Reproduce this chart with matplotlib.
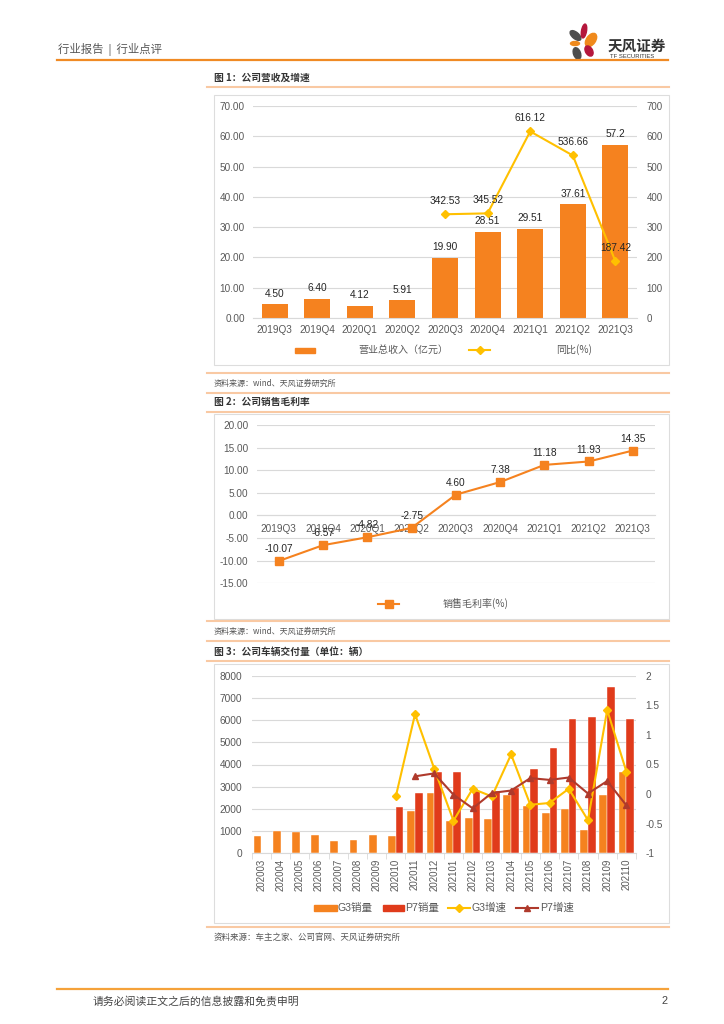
import matplotlib
matplotlib.use("Agg")
import matplotlib.pyplot as plt
import numpy as np
from matplotlib.lines import Line2D
from matplotlib.patches import Rectangle, Ellipse

plt.rcParams['font.family'] = ['Liberation Sans', 'Noto Sans CJK SC', 'DejaVu Sans']
plt.rcParams['axes.unicode_minus'] = False

# chart 1: revenue and yoy growth
quarters = ['2019Q3', '2019Q4', '2020Q1', '2020Q2', '2020Q3', '2020Q4', '2021Q1', '2021Q2', '2021Q3']
revenue = [4.50, 6.40, 4.12, 5.91, 19.90, 28.51, 29.51, 37.61, 57.2]
revenue_lbl = ['4.50', '6.40', '4.12', '5.91', '19.90', '28.51', '29.51', '37.61', '57.2']
yoy = [np.nan, np.nan, np.nan, np.nan, 342.53, 345.52, 616.12, 536.66, 187.42]

# chart 2: gross margin
margin = [-10.07, -6.57, -4.82, -2.75, 4.60, 7.38, 11.18, 11.93, 14.35]

# chart 3: deliveries
months = ['202003', '202004', '202005', '202006', '202007', '202008', '202009', '202010',
          '202011', '202012', '202101', '202102', '202103', '202104', '202105', '202106',
          '202107', '202108', '202109', '202110']
g3_sales = [780, 1000, 950, 810, 540, 600, 830, 800, 1900, 2720, 1460, 1610, 1550, 2620,
            2150, 1820, 1980, 1070, 2630, 3650]
p7_sales = [0, 0, 0, 0, 0, 0, 0, 2090, 2730, 3680, 3680, 2800, 2810, 2940, 3800, 4730,
            6050, 6150, 7500, 6050]
g3_growth = [np.nan] * 7 + [-0.04, 1.35, 0.43, -0.45, 0.09, -0.04, 0.67, -0.18, -0.15,
                            0.09, -0.44, 1.42, 0.38]
p7_growth = [np.nan] * 8 + [0.30, 0.35, -0.01, -0.24, 0.02, 0.06, 0.27, 0.24, 0.28, 0.01,
                            0.22, -0.19]

W, H = 724, 1024
ORANGE = '#F5821F'
RED = '#E03B1B'
YELLOW = '#FFC000'
DARKRED = '#AF3A2C'
GRID = '#D9D9D9'
TXT = '#595959'
LINEOR = '#F9C9A3'

fig = plt.figure(figsize=(W / 100, H / 100), dpi=100)


def ax_at(l, t, r, b):
    return fig.add_axes([l / W, 1 - b / H, (r - l) / W, (b - t) / H])


def ftext(x, y, s, **kw):
    kw.setdefault('va', 'center')
    fig.text(x / W, 1 - y / H, s, **kw)


def hline(x0, x1, y, color, lw):
    fig.add_artist(Line2D([x0 / W, x1 / W], [1 - y / H] * 2, color=color, lw=lw))


def box(l, t, r, b):
    fig.add_artist(Rectangle((l / W, 1 - b / H), (r - l) / W, (b - t) / H, fill=False,
                             ec='#DDDDDD', lw=0.8))


# header
ftext(58, 50, '行业报告  |  行业点评', fontsize=8.2, color='#555555',
      family=['Noto Sans CJK SC'])
hline(57, 668, 60, '#F08A24', 1.6)
lg = fig.add_axes([560 / W, 1 - 65 / H, 45 / W, 50 / H])
lg.set_xlim(560, 605)
lg.set_ylim(65, 15)
lg.axis('off')
for (cx, cy, w, h, a, c) in [(575.5, 35.5, 13, 6.5, 40, '#4D4D4D'),
                             (584, 31, 5, 14, 10, '#B5173C'),
                             (591, 40, 9, 15, 35, '#F08A1C'),
                             (575, 43.5, 9, 4, 0, '#F08A1C'),
                             (589, 51, 7, 11, -30, '#B5173C'),
                             (577, 53.5, 7, 12, -20, '#4D4D4D')]:
    lg.add_patch(Ellipse((cx, cy), w, h, angle=a, color=c))
ftext(608, 46, '天风证券', fontsize=10.5, color='#333333', weight='bold',
      family=['Noto Sans CJK SC'])
ftext(610, 56, 'TF SECURITIES', fontsize=4.2, color='#333333')

# ---------------- chart 1 ----------------
ftext(214, 78, '图 1：公司营收及增速', fontsize=7, color='#333333', weight='bold',
      family=['Noto Sans CJK SC'])
hline(207, 669, 87, LINEOR, 1.5)
box(214, 95, 669, 365)
ax1 = ax_at(253.3, 106, 636.7, 318)
x1 = np.arange(len(quarters))
ax1.bar(x1, revenue, width=0.61, color=ORANGE, zorder=2)
for xi, v, s in zip(x1, revenue, revenue_lbl):
    ax1.annotate(s, (xi, v), xytext=(0, 4), textcoords='offset points', ha='center',
                 va='bottom', fontsize=7.3, color='#262626')
ax1.set_xlim(-0.5, len(quarters) - 0.5)
ax1.set_ylim(0, 70)
ax1.set_yticks(np.arange(0, 71, 10))
ax1.set_yticklabels(['%.2f' % v for v in np.arange(0, 71, 10)])
ax1.set_xticks(x1)
ax1.set_xticklabels(quarters)
ax1.grid(axis='y', color=GRID, lw=0.8, zorder=0)
ax1.set_axisbelow(True)
for s in ['top', 'left', 'right']:
    ax1.spines[s].set_visible(False)
ax1.spines['bottom'].set_color(GRID)
ax1.tick_params(axis='both', length=0, labelsize=7.2, labelcolor=TXT)
ax1.tick_params(axis='y', pad=6)
ax1.tick_params(axis='x', pad=5)
ax1b = ax1.twinx()
ax1b.plot(x1, yoy, color=YELLOW, lw=1.5, marker='D', ms=4.5, zorder=3)
for xi, v in zip(x1, yoy):
    if not np.isnan(v):
        ax1b.annotate('%.2f' % v, (xi, v), xytext=(0, 6), textcoords='offset points',
                      ha='center', va='bottom', fontsize=7.3, color='#262626')
ax1b.set_ylim(0, 700)
ax1b.set_yticks(np.arange(0, 701, 100))
for s in ax1b.spines.values():
    s.set_visible(False)
ax1b.tick_params(axis='y', length=0, labelsize=7, labelcolor=TXT, pad=7)
# legend
fig.add_artist(Rectangle((295 / W, 1 - 352.5 / H), 20 / W, 5 / H, color=ORANGE))
ftext(403, 350, '营业总收入（亿元）', fontsize=7.2, color=TXT, ha='center',
      family=['Noto Sans CJK SC'])
fig.add_artist(Line2D([469 / W, 490 / W], [1 - 350 / H] * 2, color=YELLOW, lw=1.5))
fig.add_artist(Line2D([479.5 / W], [1 - 350 / H], color=YELLOW, marker='D', ms=4.5))
ftext(574, 350, '同比(%)', fontsize=7.2, color=TXT, ha='center',
      family=['Noto Sans CJK SC', 'Liberation Sans'])
hline(207, 669, 373, LINEOR, 1.5)
ftext(214, 383, '资料来源：wind、天风证券研究所', fontsize=5.8, color='#555555',
      family=['Noto Sans CJK SC'])
hline(207, 669, 392.5, LINEOR, 1.5)

# ---------------- chart 2 ----------------
ftext(214, 402, '图 2：公司销售毛利率', fontsize=7, color='#333333', weight='bold',
      family=['Noto Sans CJK SC'])
hline(207, 669, 412, LINEOR, 1.5)
box(214, 414, 669, 619)
ax2 = ax_at(256.7, 425, 655, 583.3)
x2 = np.arange(len(quarters))
ax2.plot(x2, margin, color=ORANGE, lw=1.5, marker='s', ms=5.5, zorder=3)
for xi, v in zip(x2, margin):
    ax2.annotate('%.2f' % v, (xi, v), xytext=(0, 5), textcoords='offset points',
                 ha='center', va='bottom', fontsize=7.3, color='#262626')
ax2.set_xlim(-0.5, len(quarters) - 0.5)
ax2.set_ylim(-15, 20)
ax2.set_yticks(np.arange(-15, 21, 5))
ax2.set_yticklabels(['%.2f' % v for v in np.arange(-15, 21, 5)])
ax2.set_xticks(x2)
ax2.set_xticklabels(quarters)
ax2.grid(axis='y', color=GRID, lw=0.8, zorder=0)
ax2.set_axisbelow(True)
for s in ['top', 'left', 'right']:
    ax2.spines[s].set_visible(False)
ax2.spines['bottom'].set_position(('data', 0))
ax2.spines['bottom'].set_color(GRID)
ax2.tick_params(axis='both', length=0, labelsize=7.2, labelcolor=TXT)
ax2.tick_params(axis='y', pad=6)
ax2.tick_params(axis='x', pad=6)
fig.add_artist(Line2D([378 / W, 399 / W], [1 - 604 / H] * 2, color=ORANGE, lw=1.5))
fig.add_artist(Line2D([388.5 / W], [1 - 604 / H], color=ORANGE, marker='s', ms=5.5))
ftext(476, 604, '销售毛利率(%)', fontsize=7.2, color=TXT, ha='center',
      family=['Noto Sans CJK SC', 'Liberation Sans'])
hline(207, 669, 621, LINEOR, 1.5)
ftext(214, 631, '资料来源：wind、天风证券研究所', fontsize=5.8, color='#555555',
      family=['Noto Sans CJK SC'])
hline(207, 669, 641, LINEOR, 1.5)

# ---------------- chart 3 ----------------
ftext(214, 651.5, '图 3：公司车辆交付量（单位：辆）', fontsize=7, color='#333333',
      weight='bold', family=['Noto Sans CJK SC'])
hline(207, 669, 661, LINEOR, 1.5)
box(214, 664, 669, 922.5)
ax3 = ax_at(251.7, 675.7, 636, 853.3)
x3 = np.arange(len(months))
ax3.bar(x3 - 0.2, g3_sales, width=0.4, color=ORANGE, ec='white', lw=0.3, zorder=2)
ax3.bar(x3 + 0.2, p7_sales, width=0.4, color=RED, ec='white', lw=0.3, zorder=2)
ax3.set_xlim(-0.5, len(months) - 0.5)
ax3.set_ylim(0, 8000)
ax3.set_yticks(np.arange(0, 8001, 1000))
ax3.set_xticks(x3)
ax3.set_xticklabels(months, rotation=90)
ax3.set_xticks(np.arange(-0.5, len(months), 1), minor=True)
ax3.grid(axis='y', color=GRID, lw=0.8, zorder=0)
ax3.set_axisbelow(True)
for s in ['top', 'left', 'right']:
    ax3.spines[s].set_visible(False)
ax3.spines['bottom'].set_color(GRID)
ax3.tick_params(axis='both', which='major', length=0, labelcolor=TXT)
ax3.tick_params(axis='y', labelsize=7.3, pad=7)
ax3.tick_params(axis='x', labelsize=7, pad=4)
ax3.tick_params(axis='x', which='minor', length=4, color=GRID)
ax3b = ax3.twinx()
ax3b.plot(x3, g3_growth, color=YELLOW, lw=1.5, marker='D', ms=4.5, zorder=3)
ax3b.plot(x3, p7_growth, color=DARKRED, lw=1.5, marker='^', ms=5, zorder=4)
ax3b.set_ylim(-1, 2)
ax3b.set_yticks([-1, -0.5, 0, 0.5, 1, 1.5, 2])
ax3b.set_yticklabels(['-1', '-0.5', '0', '0.5', '1', '1.5', '2'])
for s in ax3b.spines.values():
    s.set_visible(False)
ax3b.tick_params(axis='y', length=0, labelsize=7.3, labelcolor=TXT, pad=7)
# legend
fig.add_artist(Rectangle((314 / W, 1 - 910.5 / H), 23 / W, 5.5 / H, color=ORANGE))
ftext(338, 907.7, 'G3销量', fontsize=7.6, color=TXT, family=['Liberation Sans', 'Noto Sans CJK SC'])
fig.add_artist(Rectangle((383 / W, 1 - 910.5 / H), 21 / W, 5.5 / H, color=RED))
ftext(405, 907.7, 'P7销量', fontsize=7.6, color=TXT, family=['Liberation Sans', 'Noto Sans CJK SC'])
fig.add_artist(Line2D([448 / W, 470 / W], [1 - 907.7 / H] * 2, color=YELLOW, lw=1.5))
fig.add_artist(Line2D([459 / W], [1 - 907.7 / H], color=YELLOW, marker='D', ms=4.5))
ftext(472, 907.7, 'G3增速', fontsize=7.6, color=TXT, family=['Liberation Sans', 'Noto Sans CJK SC'])
fig.add_artist(Line2D([516 / W, 538 / W], [1 - 907.7 / H] * 2, color=DARKRED, lw=1.5))
fig.add_artist(Line2D([527 / W], [1 - 907.7 / H], color=DARKRED, marker='^', ms=5))
ftext(540, 907.7, 'P7增速', fontsize=7.6, color=TXT, family=['Liberation Sans', 'Noto Sans CJK SC'])
hline(207, 669, 927, LINEOR, 1.5)
ftext(214, 937, '资料来源：车主之家、公司官网、天风证券研究所', fontsize=6.1, color='#555555',
      family=['Noto Sans CJK SC'])

# footer
hline(57, 668, 989, '#F5A23A', 1.6)
ftext(92.5, 1001, '请务必阅读正文之后的信息披露和免责申明', fontsize=7.8, color='#444444',
      family=['Noto Sans CJK SC'])
ftext(668, 1001, '2', fontsize=7.8, color='#444444', ha='right')

fig.savefig('out.png', dpi=100)
